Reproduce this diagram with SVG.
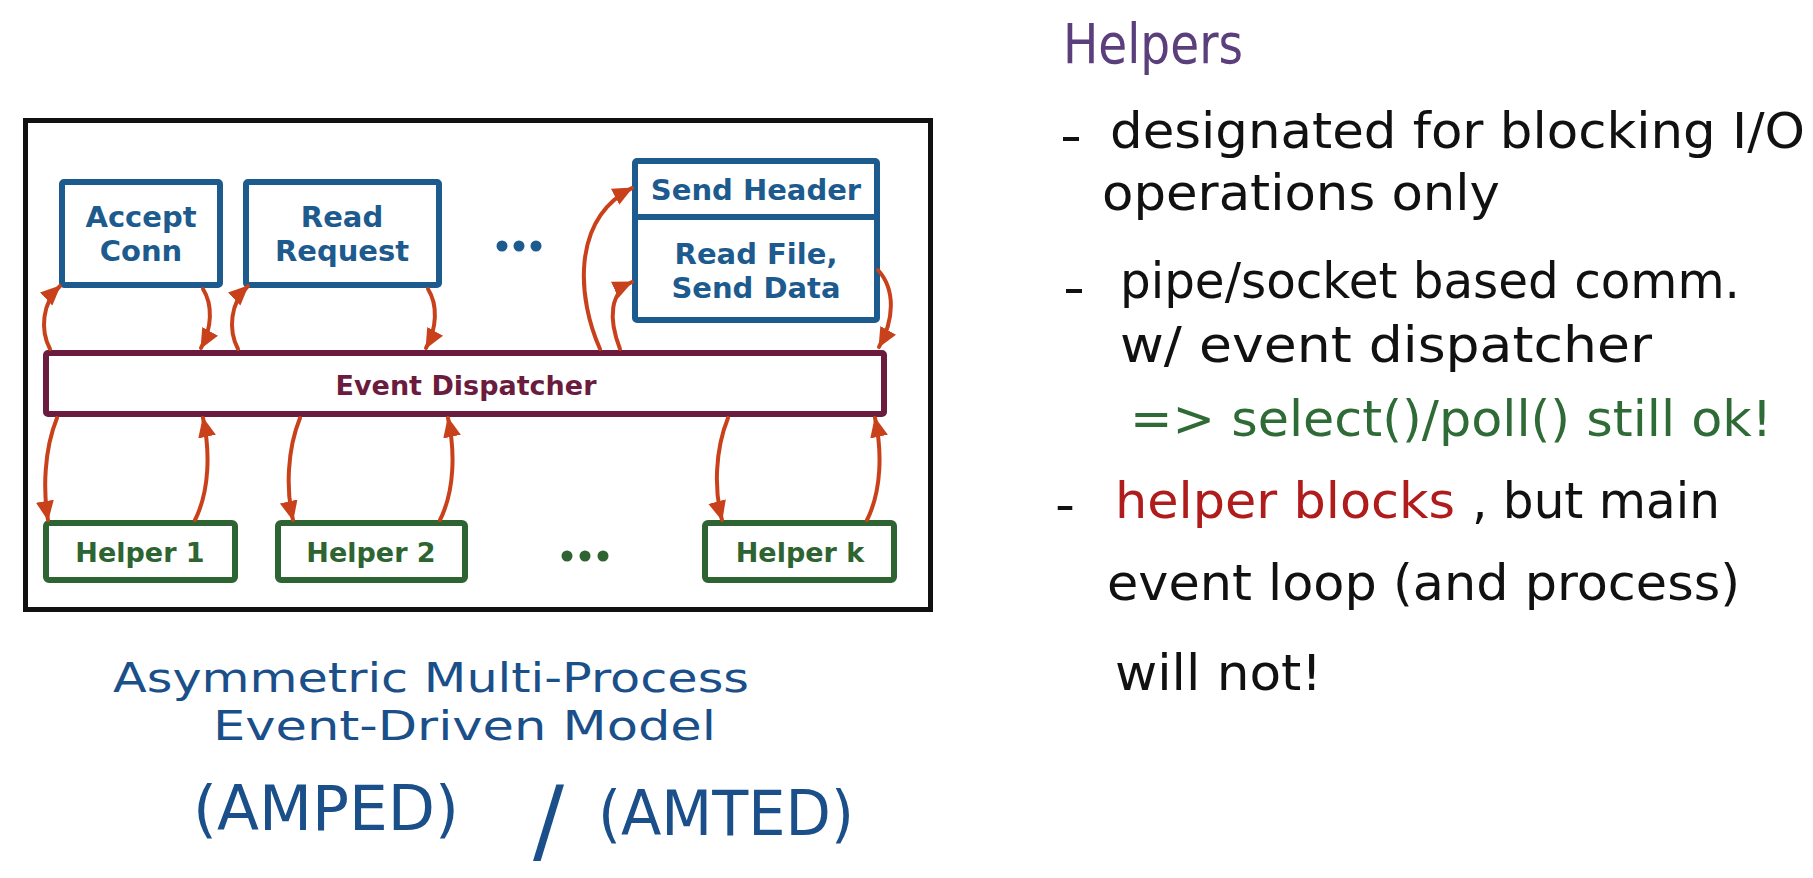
<svg xmlns="http://www.w3.org/2000/svg" width="1813" height="878" viewBox="0 0 1813 878">
  <style>
    .frame { fill: #ffffff; stroke: #111111; stroke-width: 5; }
    .stage { fill: #ffffff; stroke: #1d5a8e; stroke-width: 6; }
    .disp { fill: #ffffff; stroke: #6b1c3e; stroke-width: 6; }
    .helper { fill: #ffffff; stroke: #2e6431; stroke-width: 6; }
    .lbl { font-family: "DejaVu Sans", "Liberation Sans", sans-serif; font-weight: bold; text-anchor: middle; }
    .blue { fill: #1d5a8e; font-size: 29px; }
    .maroon { fill: #6b1c3e; font-size: 27px; }
    .green { fill: #2e6431; font-size: 27px; }
    .dots { fill: #1d5a8e; }
    .gdots { fill: #2e6431; }
    .arrow { fill: none; stroke: #c9411b; stroke-width: 4; stroke-linecap: round; marker-end: url(#head); }
    .hand { font-family: "DejaVu Sans", "Liberation Sans", sans-serif; font-weight: normal; }
    .note { font-size: 50px; fill: #111111; }
    .purple { fill: #5b3f7d; }
    .ok { fill: #2f6b36; }
    .warn { fill: #b01c1c; }
    .title { font-size: 41px; fill: #1a4f8a; }
    .acr { font-size: 62px; fill: #1a4f8a; }
  </style>
  <defs>
    <marker id="head" markerUnits="userSpaceOnUse" markerWidth="22" markerHeight="20" refX="19" refY="9" orient="auto">
      <path d="M0,0 L20,9 L0,18 z" fill="#c9411b"/>
    </marker>
  </defs>

  <rect width="1813" height="878" fill="#ffffff"/>

  <!-- outer process frame -->
  <g id="frame">
    <rect class="frame" x="25.5" y="120.5" width="905" height="489"/>
  </g>

  <!-- pipeline stages -->
  <g id="accept-conn">
    <rect class="stage" x="62" y="182" width="158" height="103" rx="2"/>
    <text class="lbl blue" x="141" y="227">Accept</text>
    <text class="lbl blue" x="141" y="261">Conn</text>
  </g>
  <g id="read-request">
    <rect class="stage" x="246" y="182" width="193" height="103" rx="2"/>
    <text class="lbl blue" x="342" y="227">Read</text>
    <text class="lbl blue" x="342" y="261">Request</text>
  </g>
  <g id="stage-dots">
    <circle class="dots" cx="502" cy="246" r="5.5"/>
    <circle class="dots" cx="519" cy="246" r="5.5"/>
    <circle class="dots" cx="536" cy="246" r="5.5"/>
  </g>
  <g id="send-stages">
    <rect class="stage" x="635" y="161" width="242" height="159" rx="2"/>
    <line x1="635" y1="217" x2="877" y2="217" stroke="#1d5a8e" stroke-width="6"/>
    <text class="lbl blue" x="756" y="200">Send Header</text>
    <text class="lbl blue" x="756" y="264">Read File,</text>
    <text class="lbl blue" x="756" y="298">Send Data</text>
  </g>

  <!-- dispatcher -->
  <g id="event-dispatcher">
    <rect class="disp" x="46" y="353" width="838" height="61" rx="2"/>
    <text class="lbl maroon" x="466" y="395">Event Dispatcher</text>
  </g>

  <!-- helper processes -->
  <g id="helper-1">
    <rect class="helper" x="46" y="523" width="189" height="57" rx="3"/>
    <text class="lbl green" x="140" y="562">Helper 1</text>
  </g>
  <g id="helper-2">
    <rect class="helper" x="278" y="523" width="187" height="57" rx="3"/>
    <text class="lbl green" x="371" y="562">Helper 2</text>
  </g>
  <g id="helper-dots">
    <circle class="gdots" cx="567" cy="556" r="5.5"/>
    <circle class="gdots" cx="585" cy="556" r="5.5"/>
    <circle class="gdots" cx="603" cy="556" r="5.5"/>
  </g>
  <g id="helper-k">
    <rect class="helper" x="705" y="523" width="189" height="57" rx="3"/>
    <text class="lbl green" x="800" y="562">Helper k</text>
  </g>

  <!-- event flow between stages, dispatcher and helpers -->
  <g id="connectors">
    <path class="arrow" d="M50,349 C40,330 42,303 60,286"/>
    <path class="arrow" d="M203,289 C213,305 212,328 201,348"/>
    <path class="arrow" d="M238,349 C228,330 230,303 248,286"/>
    <path class="arrow" d="M428,289 C438,305 437,328 426,348"/>
    <path class="arrow" d="M600,349 C578,300 570,220 632,188"/>
    <path class="arrow" d="M620,349 C608,318 610,292 632,282"/>
    <path class="arrow" d="M878,270 C896,290 894,320 879,347"/>

    <path class="arrow" d="M57,418 C44,450 43,490 48,520"/>
    <path class="arrow" d="M195,520 C210,490 210,450 203,418"/>
    <path class="arrow" d="M300,418 C287,450 286,490 293,520"/>
    <path class="arrow" d="M440,520 C455,490 455,450 448,418"/>
    <path class="arrow" d="M728,418 C715,450 714,490 722,520"/>
    <path class="arrow" d="M867,520 C882,490 882,450 875,418"/>
  </g>

  <!-- model name -->
  <g id="model-title" class="hand">
    <text class="title" x="113" y="692" textLength="636" lengthAdjust="spacingAndGlyphs">Asymmetric Multi-Process</text>
    <text class="title" x="213" y="740" textLength="503" lengthAdjust="spacingAndGlyphs">Event-Driven Model</text>
    <text class="acr" x="193" y="830" textLength="266" lengthAdjust="spacingAndGlyphs">(AMPED)</text>
    <text class="acr" x="533" y="852" style="font-size:92px">/</text>
    <text class="acr" x="598" y="835" textLength="256" lengthAdjust="spacingAndGlyphs">(AMTED)</text>
  </g>

  <!-- helper notes -->
  <g id="helper-notes" class="hand">
    <text class="note purple" x="1063" y="63" style="font-size:56px" textLength="180" lengthAdjust="spacingAndGlyphs">Helpers</text>
    <text class="note" x="1060" y="153" textLength="22" lengthAdjust="spacingAndGlyphs">-</text>
    <text class="note" x="1110" y="148" textLength="695" lengthAdjust="spacingAndGlyphs">designated for blocking I/O</text>
    <text class="note" x="1102" y="210" textLength="398" lengthAdjust="spacingAndGlyphs">operations only</text>
    <text class="note" x="1063" y="305" textLength="22" lengthAdjust="spacingAndGlyphs">-</text>
    <text class="note" x="1120" y="298" textLength="620" lengthAdjust="spacingAndGlyphs">pipe/socket based comm.</text>
    <text class="note" x="1120" y="362" textLength="532" lengthAdjust="spacingAndGlyphs">w/ event dispatcher</text>
    <text class="note ok" x="1130" y="436" textLength="642" lengthAdjust="spacingAndGlyphs">=&gt; select()/poll() still ok!</text>
    <text class="note" x="1055" y="522" textLength="20" lengthAdjust="spacingAndGlyphs">-</text>
    <text class="note warn" x="1115" y="518" textLength="340" lengthAdjust="spacingAndGlyphs">helper blocks</text>
    <text class="note" x="1472" y="518" textLength="248" lengthAdjust="spacingAndGlyphs">, but main</text>
    <text class="note" x="1107" y="600" textLength="633" lengthAdjust="spacingAndGlyphs">event loop (and process)</text>
    <text class="note" x="1115" y="690" textLength="207" lengthAdjust="spacingAndGlyphs">will not!</text>
  </g>
</svg>
